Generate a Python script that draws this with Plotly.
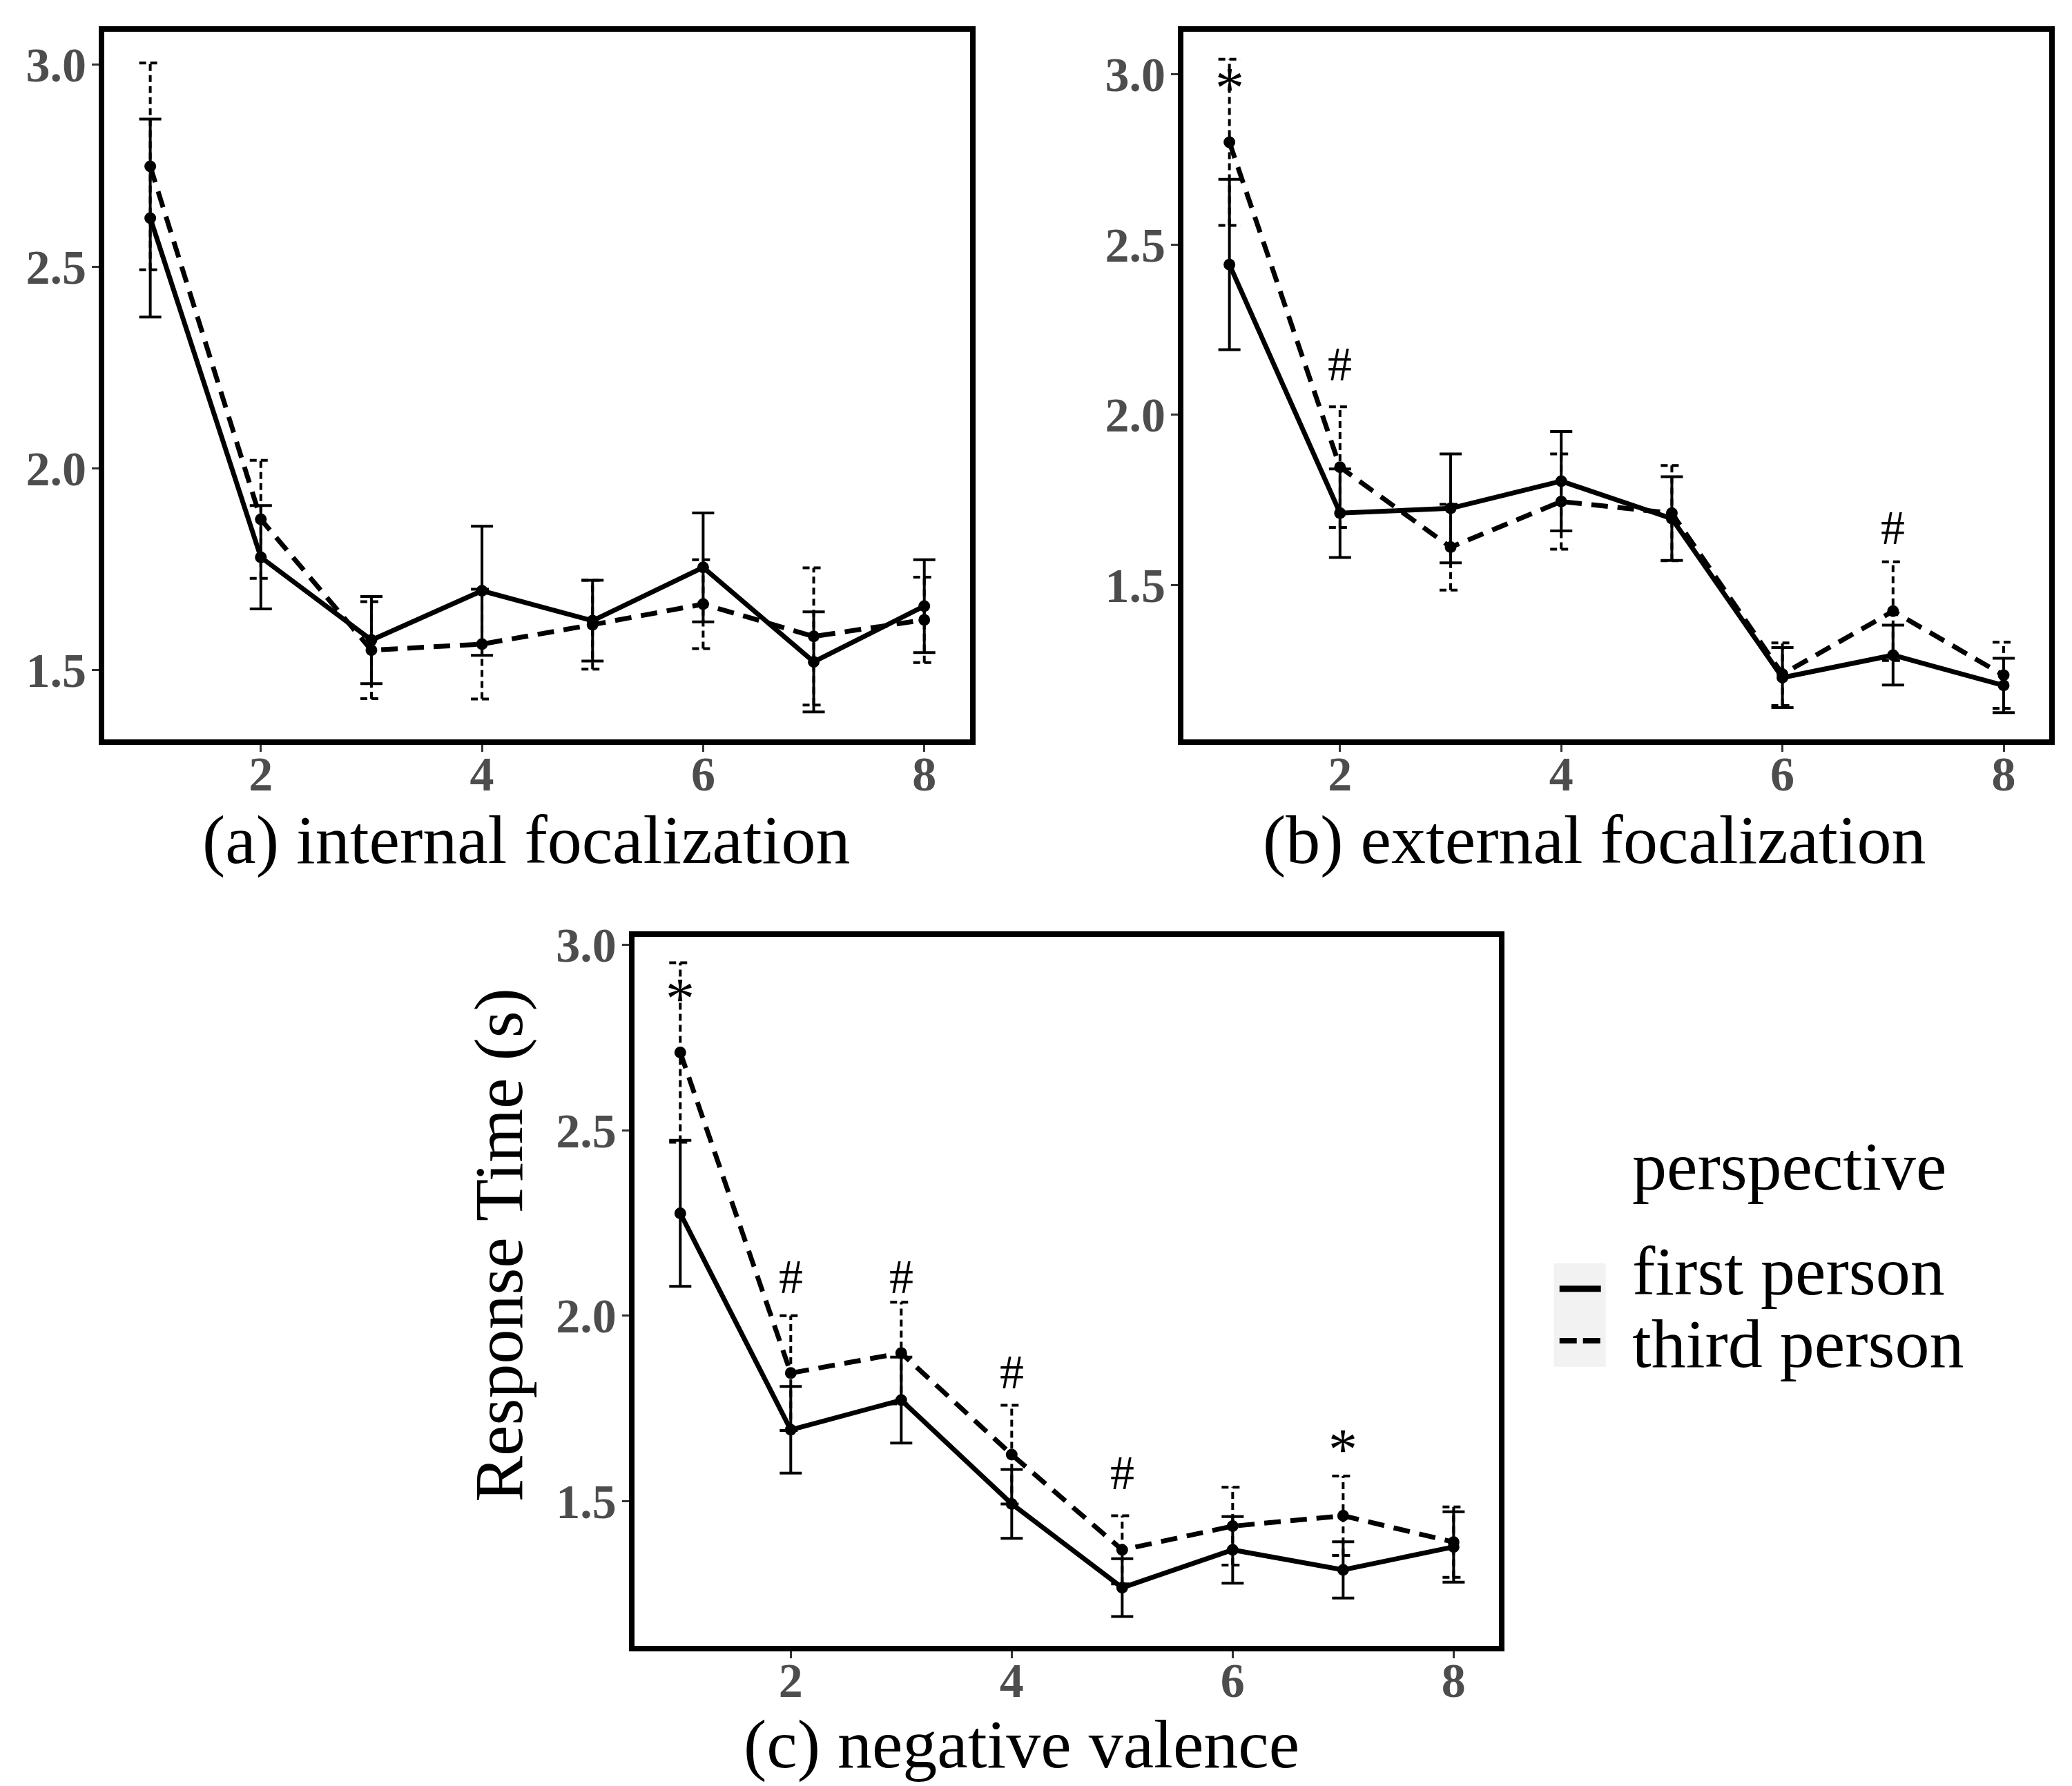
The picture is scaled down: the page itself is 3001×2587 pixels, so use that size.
import plotly.graph_objects as go

serial_pos = [1, 2, 3, 4, 5, 6, 7, 8]
x_ticks = [2, 4, 6, 8]
y_ticks = [1.5, 2.0, 2.5, 3.0]

# (a) internal focalization
a_first_mean = [2.62, 1.78, 1.575, 1.697, 1.623, 1.755, 1.521, 1.659]
a_first_se = [0.245, 0.128, 0.108, 0.16, 0.10, 0.135, 0.124, 0.115]
a_third_mean = [2.748, 1.874, 1.55, 1.565, 1.613, 1.664, 1.584, 1.625]
a_third_se = [0.256, 0.146, 0.12, 0.136, 0.11, 0.11, 0.17, 0.106]

# (b) external focalization
b_first_mean = [2.441, 1.711, 1.725, 1.805, 1.695, 1.228, 1.294, 1.205]
b_first_se = [0.25, 0.13, 0.16, 0.146, 0.123, 0.088, 0.088, 0.08]
b_third_mean = [2.80, 1.846, 1.611, 1.745, 1.711, 1.238, 1.423, 1.235]
b_third_se = [0.244, 0.177, 0.126, 0.14, 0.14, 0.092, 0.145, 0.097]
b_sig_x = [1, 2, 7]
b_sig_y = [2.968, 2.149, 1.668]
b_sig_txt = ["*", "#", "#"]

# (c) negative valence
c_first_mean = [2.276, 1.692, 1.772, 1.492, 1.266, 1.368, 1.314, 1.376]
c_first_se = [0.197, 0.117, 0.116, 0.093, 0.078, 0.09, 0.076, 0.095]
c_third_mean = [2.71, 1.845, 1.899, 1.625, 1.368, 1.432, 1.46, 1.389]
c_third_se = [0.242, 0.155, 0.137, 0.133, 0.092, 0.105, 0.107, 0.095]
c_sig_x = [1, 2, 3, 4, 5, 7]
c_sig_y = [2.862, 2.105, 2.105, 1.847, 1.576, 1.646]
c_sig_txt = ["*", "#", "#", "#", "#", "*"]

legend_title = "perspective"
legend_names = ["first person", "third person"]
panel_titles = ["(a) internal focalization", "(b) external focalization", "(c) negative valence"]
y_title = "Response Time (s)"

SERIF = "Liberation Serif"
CAP = 0.1
DASH = "24px,14px"


def errbar_path(means, ses):
    xs, ys = [], []
    for x, m, s in zip(serial_pos, means, ses):
        lo, hi = m - s, m + s
        xs += [x, x, None, x - CAP, x + CAP, None, x - CAP, x + CAP, None]
        ys += [lo, hi, None, lo, lo, None, hi, hi, None]
    return xs, ys


fig = go.Figure()

panels = [
    ("x", "y", a_first_mean, a_first_se, a_third_mean, a_third_se, None),
    ("x2", "y2", b_first_mean, b_first_se, b_third_mean, b_third_se, (b_sig_x, b_sig_y, b_sig_txt)),
    ("x3", "y3", c_first_mean, c_first_se, c_third_mean, c_third_se, (c_sig_x, c_sig_y, c_sig_txt)),
]

for xa, ya, fm, fs, tm, ts, sig in panels:
    ex, ey = errbar_path(fm, fs)
    fig.add_trace(go.Scatter(x=ex, y=ey, mode="lines", xaxis=xa, yaxis=ya, showlegend=False,
                             line=dict(color="black", width=4), hoverinfo="skip"))
    ex, ey = errbar_path(tm, ts)
    fig.add_trace(go.Scatter(x=ex, y=ey, mode="lines", xaxis=xa, yaxis=ya, showlegend=False,
                             line=dict(color="black", width=4, dash="10px,6px"), hoverinfo="skip"))
    fig.add_trace(go.Scatter(x=serial_pos, y=fm, mode="lines", xaxis=xa, yaxis=ya,
                             name=legend_names[0], showlegend=False,
                             line=dict(color="black", width=7)))
    fig.add_trace(go.Scatter(x=serial_pos, y=tm, mode="lines", xaxis=xa, yaxis=ya,
                             name=legend_names[1], showlegend=False,
                             line=dict(color="black", width=7, dash=DASH)))
    fig.add_trace(go.Scatter(x=serial_pos + serial_pos, y=fm + tm, mode="markers", xaxis=xa, yaxis=ya,
                             showlegend=False, marker=dict(color="black", size=17)))
    if sig:
        for sx, sy, st in zip(*sig):
            fig.add_annotation(x=sx, y=sy, xref=xa, yref=ya, text=st, showarrow=False,
                               yshift=-4 if st == "*" else 0,
                               font=dict(family=SERIF, size=84 if st == "*" else 70, color="black"))

axis_common = dict(showline=True, mirror=True, linecolor="black", linewidth=8,
                   ticks="outside", ticklen=10, tickwidth=3, tickcolor="#333333",
                   showgrid=False, zeroline=False, automargin=False,
                   tickfont=dict(family=SERIF, size=70, color="#4D4D4D", weight="bold"))

x_domains = [[0.04765, 0.46541], [0.56848, 0.98634], [0.30347, 0.72086]]
y_domains = [[0.58910, 0.98520], [0.58899, 0.98520], [0.08156, 0.47855]]
y_ranges = [[1.329, 3.081], [1.046, 3.124], [1.109, 3.022]]

layout = dict(width=3001, height=2587, paper_bgcolor="white", plot_bgcolor="white",
              margin=dict(l=0, r=0, t=0, b=0), showlegend=False,
              font=dict(family=SERIF, color="black"))
for k in range(3):
    sx = "" if k == 0 else str(k + 1)
    layout["xaxis" + sx] = dict(axis_common, domain=x_domains[k], range=[0.584, 8.412],
                                tickvals=x_ticks, anchor="y" + sx, ticklabelstandoff=-28)
    layout["yaxis" + sx] = dict(axis_common, domain=y_domains[k], range=y_ranges[k],
                                tickvals=y_ticks, tickformat=".1f", anchor="x" + sx,
                                ticklabelstandoff=-6)
fig.update_layout(**layout)

# panel titles under the x axes
title_font = dict(family=SERIF, size=100, color="black")
for txt, tx, ty in zip(panel_titles, [0.2514, 0.7668, 0.4905], [0.5328, 0.5328, 0.0265]):
    fig.add_annotation(x=tx, y=ty, xref="paper", yref="paper", text=txt, showarrow=False,
                       xanchor="center", yanchor="middle", font=title_font)
fig.add_annotation(x=0.238, y=0.306, xref="paper", yref="paper", text=y_title, showarrow=False,
                   textangle=-90, xanchor="center", yanchor="middle", font=title_font)

# legend
fig.add_shape(type="rect", xref="paper", yref="paper", x0=0.74732, x1=0.77228, y0=0.23784, y1=0.29583,
              fillcolor="#F2F2F2", line=dict(width=0), layer="below")
fig.add_shape(type="line", xref="paper", yref="paper", x0=0.74999, x1=0.76998, y0=0.28148, y1=0.28148,
              line=dict(color="black", width=9))
fig.add_shape(type="line", xref="paper", yref="paper", x0=0.74999, x1=0.76998, y0=0.25242, y1=0.25242,
              line=dict(color="black", width=8, dash="25px,9px"))
fig.add_annotation(x=0.7843, y=0.3502, xref="paper", yref="paper", text=legend_title, showarrow=False,
                   xanchor="left", yanchor="middle", font=title_font)
for name, ly in zip(legend_names, [0.2911, 0.2505]):
    fig.add_annotation(x=0.7843, y=ly, xref="paper", yref="paper", text=name, showarrow=False,
                       xanchor="left", yanchor="middle", font=title_font)

fig.write_html("out.html")
